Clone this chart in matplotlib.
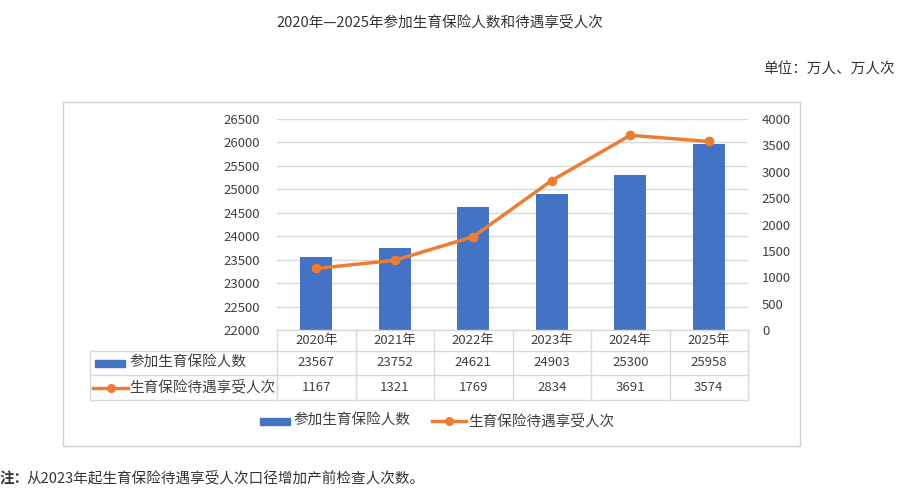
import matplotlib
matplotlib.use("Agg")
import matplotlib.pyplot as plt
from matplotlib.patches import Rectangle
from matplotlib.lines import Line2D

plt.rcParams['font.family'] = ['Noto Sans CJK SC', 'DejaVu Sans']

years = ["2020年", "2021年", "2022年", "2023年", "2024年", "2025年"]
insured = [23567, 23752, 24621, 24903, 25300, 25958]
benefits = [1167, 1321, 1769, 2834, 3691, 3574]
bar_name = "参加生育保险人数"
line_name = "生育保险待遇享受人次"
title = "2020年—2025年参加生育保险人数和待遇享受人次"
unit = "单位：万人、万人次"
note_bold = "注："
note = "从2023年起生育保险待遇享受人次口径增加产前检查人次数。"
left_ticks = list(range(22000, 26501, 500))
right_ticks = list(range(0, 4001, 500))

BLUE = "#4472C4"
ORANGE = "#ED7D31"
GRID = "#D9D9D9"
TXT = "#404040"

W, H = 900, 500
fig = plt.figure(figsize=(9, 5), dpi=100)

def fx(px): return px / W
def fy(py): return 1 - py / H

# chart border
fig.patches.append(Rectangle((fx(63), fy(446)), fx(800) - fx(63), fy(102) - fy(446),
                             transform=fig.transFigure, fill=False, ec="#D0D0D0", lw=1))

L, R, T, B = 277, 748, 119, 330
ax = fig.add_axes([fx(L), fy(B), fx(R) - fx(L), fy(T) - fy(B)])
x = list(range(len(years)))
ax.bar(x, insured, width=0.41, color=BLUE, zorder=2)
ax.set_xlim(-0.5, len(years) - 0.5)
ax.set_ylim(22000, 26500)
ax.set_yticks(left_ticks)
ax.set_yticklabels([str(t) for t in left_ticks])
ax.yaxis.grid(True, color=GRID, lw=1, zorder=0)
ax.set_axisbelow(True)
ax.set_xticks([])
for s in ax.spines.values():
    s.set_visible(False)
ax.tick_params(axis='y', length=0, pad=12, labelsize=9.5, labelcolor=TXT)

ax2 = ax.twinx()
ax2.plot(x, benefits, color=ORANGE, lw=2.5, marker='o', ms=6, zorder=3)
ax2.set_ylim(0, 4000)
ax2.set_yticks(right_ticks)
ax2.set_yticklabels([str(t) for t in right_ticks])
for s in ax2.spines.values():
    s.set_visible(False)
ax2.tick_params(axis='y', length=0, pad=10, labelsize=9.5, labelcolor=TXT)

# data table
rows_y = [330, 351, 375, 400]
table_left = 90
col_edges = [L + (R - L) * i / len(years) for i in range(len(years) + 1)]
lc = dict(color=GRID, lw=1, transform=fig.transFigure)
fig.lines.append(Line2D([fx(L), fx(R)], [fy(rows_y[0])] * 2, **lc))
for yy in rows_y[1:]:
    fig.lines.append(Line2D([fx(table_left), fx(R)], [fy(yy)] * 2, **lc))
for xe in col_edges:
    fig.lines.append(Line2D([fx(xe)] * 2, [fy(rows_y[0]), fy(rows_y[3])], **lc))
fig.lines.append(Line2D([fx(table_left)] * 2, [fy(rows_y[1]), fy(rows_y[3])], **lc))

for i, yr in enumerate(years):
    cx = (col_edges[i] + col_edges[i + 1]) / 2
    fig.text(fx(cx), fy((rows_y[0] + rows_y[1]) / 2), yr, ha='center', va='center',
             fontsize=9.5, color=TXT)
    fig.text(fx(cx), fy((rows_y[1] + rows_y[2]) / 2), str(insured[i]), ha='center', va='center',
             fontsize=9.5, color=TXT)
    fig.text(fx(cx), fy((rows_y[2] + rows_y[3]) / 2), str(benefits[i]), ha='center', va='center',
             fontsize=9.5, color=TXT)

# row labels with legend keys
r1 = (rows_y[1] + rows_y[2]) / 2
fig.patches.append(Rectangle((fx(95), fy(r1 + 3.5)), fx(125) - fx(95), fy(r1 - 3.5) - fy(r1 + 3.5),
                             transform=fig.transFigure, color=BLUE))
fig.text(fx(129), fy(r1), bar_name, ha='left', va='center', fontsize=10.5, color=TXT)
r2 = (rows_y[2] + rows_y[3]) / 2
fig.lines.append(Line2D([fx(93), fx(128)], [fy(r2)] * 2, color=ORANGE, lw=2.5,
                        transform=fig.transFigure))
fig.lines.append(Line2D([fx(110.5)], [fy(r2)], color=ORANGE, marker='o', ms=5.5,
                        transform=fig.transFigure))
fig.text(fx(129), fy(r2), line_name, ha='left', va='center', fontsize=10.5, color=TXT)

# bottom legend
ly = 421
fig.patches.append(Rectangle((fx(260), fy(ly + 3.5)), fx(290) - fx(260), fy(ly - 3.5) - fy(ly + 3.5),
                             transform=fig.transFigure, color=BLUE))
fig.text(fx(293), fy(ly), bar_name, ha='left', va='center', fontsize=10.5, color=TXT)
fig.lines.append(Line2D([fx(432), fx(466)], [fy(ly)] * 2, color=ORANGE, lw=2.5,
                        transform=fig.transFigure))
fig.lines.append(Line2D([fx(449)], [fy(ly)], color=ORANGE, marker='o', ms=5.5,
                        transform=fig.transFigure))
fig.text(fx(468), fy(ly), line_name, ha='left', va='center', fontsize=10.5, color=TXT)

# title, unit, note
fig.text(fx(440), fy(22), title, ha='center', va='center', fontsize=10.5, color="#333333")
fig.text(fx(895), fy(70), unit, ha='right', va='center', fontsize=10.5, color="#333333")
fig.text(fx(0), fy(478), note_bold, ha='left', va='center', fontsize=10.5, color="#333333",
         fontweight='bold')
fig.text(fx(26), fy(478), note, ha='left', va='center', fontsize=10.5, color="#333333")

fig.savefig("out.png", dpi=100)
